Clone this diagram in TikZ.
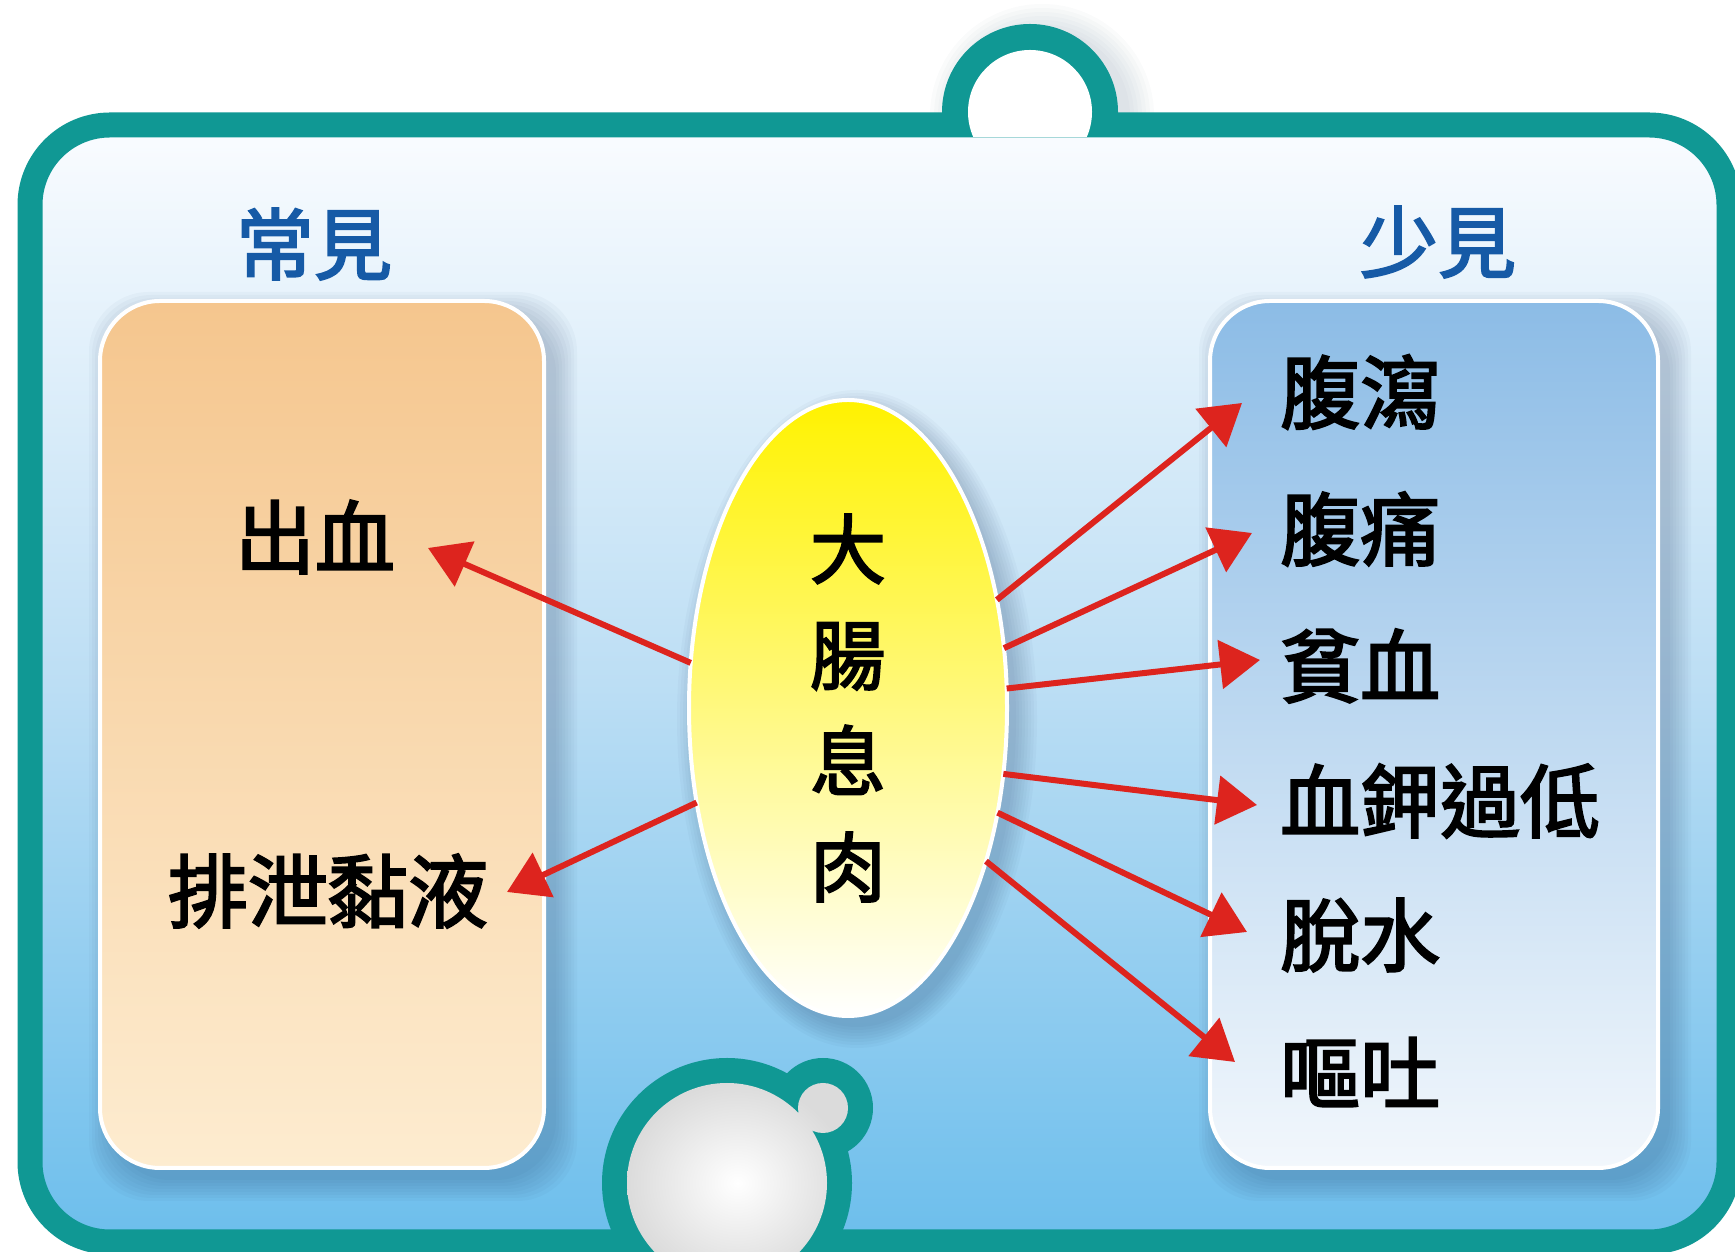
\documentclass[tikz,border=0pt]{standalone}
\usepackage{fontspec}
\newfontfamily\cjk{Noto Sans CJK TC}[FakeBold=2.6]
\usetikzlibrary{arrows.meta,shapes.geometric}
\definecolor{teal1}{RGB}{16,152,148}
\definecolor{arrowred}{RGB}{221,36,30}
\definecolor{headblue}{RGB}{22,90,166}
\definecolor{bgtop}{RGB}{250,252,255}
\definecolor{bgmid}{RGB}{188,222,244}
\definecolor{bgbot}{RGB}{108,190,236}
\definecolor{lboxtop}{RGB}{245,198,142}
\definecolor{lboxbot}{RGB}{253,236,208}
\definecolor{rboxtop}{RGB}{140,188,230}
\definecolor{rboxbot}{RGB}{242,247,252}
\definecolor{ellyel}{RGB}{255,242,0}
\definecolor{shadowc}{RGB}{30,55,95}
\begin{document}
\begin{tikzpicture}[x=1pt,y=1pt,
  lbl/.style={font=\cjk\fontsize{80}{90}\selectfont, text=black, inner sep=0pt},
  head/.style={font=\cjk\fontsize{78}{88}\selectfont, text=headblue, inner sep=0pt},
  arr/.style={draw=arrowred, line width=6pt, -{Triangle[length=40pt,width=48pt]}},
  panel/.style={draw=white, line width=4pt, rounded corners=60pt, minimum width=444pt, minimum height=867pt, inner sep=0pt, outer sep=0pt}]
\useasboundingbox (0,0) rectangle (1735,1252);
\fill[white] (0,0) rectangle (1735,1252);
\begin{scope}
\clip (0,0) rectangle (1735,1252);
% top knob shadow
\foreach \k in {0,...,6} \fill[shadowc, opacity=0.02] (1042,1136) circle [radius={88+\k*4}];
% background inside frame
\shade[rounded corners=80pt, top color=bgtop, bottom color=bgbot, middle color=bgmid] (30,10) rectangle (1729,1127);
% frame
\draw[teal1, line width=25pt, rounded corners=80pt] (30,10) rectangle (1729,1127);
% top knob
\begin{scope}
\clip (900,1115) rectangle (1170,1252);
\fill[teal1] (1030,1140) circle [radius=88];
\fill[white] (1030,1140) circle [radius=62];
\end{scope}
% bottom knob
\fill[teal1] (727,69) circle [radius=125] (823,144) circle [radius=50];
\shade[inner color=white, outer color=gray!28] (727,69) circle [radius=100] (823,144) circle [radius=25];
% panel shadows
\foreach \k in {0,...,7} \fill[shadowc, opacity=0.03, rounded corners=60pt] ({110-\k*3},{72-\k*3}) rectangle ({556+\k*3},{939+\k*3});
\foreach \k in {0,...,7} \fill[shadowc, opacity=0.03, rounded corners=60pt] ({1220-\k*3},{72-\k*3}) rectangle ({1670+\k*3},{939+\k*3});
\foreach \k in {0,...,7} \fill[shadowc, opacity=0.03] (857,533) ellipse [x radius={159+\k*3}, y radius={308+\k*3}];
\end{scope}
% panels
\node[panel, top color=lboxtop, bottom color=lboxbot] (lbox) at (322,517.5) {};
\node[panel, minimum width=448pt, top color=rboxtop, bottom color=rboxbot] (rbox) at (1434,517.5) {};
% headings
\node[head] (hl) at (314,1008) {常見};
\node[head] (hr) at (1438,1010) {少見};
% central ellipse
\node[ellipse, minimum width=318pt, minimum height=616pt, inner sep=0pt, outer sep=0pt,
      draw=white, line width=4pt, top color=ellyel, bottom color=white, align=center,
      font=\cjk\fontsize{76}{106}\selectfont] (ell) at (848,544) {大\\腸\\息\\肉};
% labels
\node[lbl] (l1) at (315,715) {出血};
\node[lbl] (l2) at (328,361) {排泄黏液};
\node[lbl, anchor=west] (r1) at (1280,860) {腹瀉};
\node[lbl, anchor=west] (r2) at (1280,723) {腹痛};
\node[lbl, anchor=west] (r3) at (1280,586) {貧血};
\node[lbl, anchor=west] (r4) at (1280,451) {血鉀過低};
\node[lbl, anchor=west] (r5) at (1280,317) {脫水};
\node[lbl, anchor=west] (r6) at (1280,180) {嘔吐};
% arrow tips
\coordinate (t1) at (428,704);
\coordinate (t2) at (507,360);
\coordinate (u1) at (1242,849);
\coordinate (u2) at (1252,719);
\coordinate (u3) at (1260,592);
\coordinate (u4) at (1257,447);
\coordinate (u5) at (1247,320);
\coordinate (u6) at (1235,190);
% arrows
\draw[arr] (ell.164) -- (t1);
\draw[arr] (ell.212) -- (t2);
\draw[arr] (ell.36) -- (u1);
\draw[arr] (ell.21) -- (u2);
\draw[arr] (ell.7) -- (u3);
\draw[arr] (ell.-23) -- (u4);
\draw[arr] (ell.-35) -- (u5);
\draw[arr] (ell.-48) -- (u6);
\end{tikzpicture}
\end{document}
